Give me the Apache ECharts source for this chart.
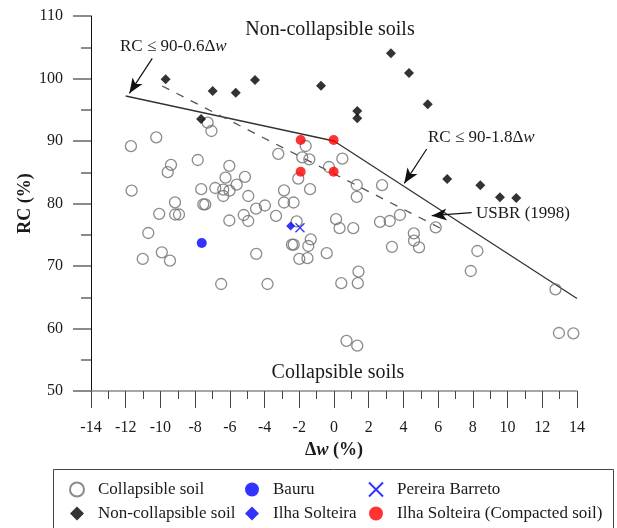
<!DOCTYPE html>
<html>
<head>
<meta charset="utf-8">
<script src="https://cdn.jsdelivr.net/npm/echarts@6/dist/echarts.min.js"></script>
<style>
  html, body { margin: 0; padding: 0; background: #fff; }
  #chart { width: 617px; height: 528px; }
</style>
</head>
<body>
<div id="chart"></div>
<script>
// Relative compaction RC (%) against moisture deviation Δw (%)
const collapsible = [
  [-7.28,92.93],[-7.06,91.6],[-10.24,90.59],[-11.70,89.17],[-1.63,89.2],[-3.21,87.95],
  [-1.83,87.39],[-1.42,87.07],[0.48,87.17],[-7.85,86.96],[-9.39,86.19],[-9.58,85.01],
  [-6.03,86.03],[-6.25,84.14],[-5.13,84.27],[-5.61,83.01],[-2.06,83.97],[-0.29,85.84],
  [-6.84,82.48],[-6.38,82.22],[-6.02,82.05],[-7.65,82.29],[-11.66,82.05],[-6.38,81.2],
  [-4.94,81.2],[-1.38,82.29],[-2.88,82.11],[1.31,82.96],[1.31,81.07],[2.77,82.93],
  [-9.16,80.19],[-7.53,79.87],[-7.42,79.87],[-4.49,79.18],[-3.98,79.68],[-2.88,80.16],
  [-2.33,80.16],[-10.07,78.35],[-9.15,78.24],[-8.93,78.24],[-6.03,77.28],[-5.20,78.16],
  [-4.94,77.2],[-3.34,78.03],[-2.15,77.15],[0.12,77.49],[0.32,76.05],[1.11,76.05],
  [2.65,77.07],[3.21,77.2],[3.80,78.16],[4.60,75.23],[4.61,74.05],[4.90,72.98],
  [5.86,76.19],[-10.70,75.28],[-1.34,74.27],[-1.48,73.2],[-2.42,73.41],[-2.32,73.41],
  [3.34,73.07],[8.26,72.4],[-9.92,72.19],[-9.45,70.85],[-11.02,71.14],[-4.48,71.94],
  [-0.42,72.05],[-2.0,71.14],[-1.53,71.25],[7.88,69.2],[1.41,69.09],[-6.50,67.12],
  [-3.83,67.12],[0.42,67.25],[1.37,67.25],[12.76,66.27],[0.72,58.03],[1.34,57.25],
  [12.96,59.28],[13.79,59.23]
];
const nonCollapsible = [
  [-9.70,99.87],[-6.99,98.0],[-5.66,97.73],[-4.55,99.76],[-7.66,93.52],[-0.75,98.85],
  [1.34,94.8],[1.34,93.63],[3.28,104.03],[4.32,100.88],[5.40,95.87],[6.52,83.92],
  [8.43,82.91],[9.56,80.99],[10.50,80.9]
];
const bauru = [[-7.62,73.68]];
const ilhaSolteira = [[-2.50,76.4]];
const pereiraBarreto = [[-1.96,76.13]];
const ilhaCompacted = [[-1.92,90.16],[-0.02,90.16],[-1.92,85.09],[-0.02,85.09]];

// Proposed limit: RC ≤ 90-0.6Δw (dry side), RC ≤ 90-1.8Δw (wet side)
const criterionLine = [[-12,97.2],[0,90],[14,64.8]];
// USBR (1998) limit
const usbrLine = [[-9.9,98.8],[6.45,75.6]];
// Annotation arrows, start -> tip, in data units
const arrowSegments = [
  [[-10.47,103.23],[-11.79,97.63]],
  [[5.34,88.72],[4.05,83.23]],
  [[7.93,78.53],[5.63,78.05]]
];

const xMin = -14, xMax = 14, xStep = 2;
const yMin = 50, yMax = 110, yStep = 10;

const SERIF = '"Liberation Serif", "Times New Roman", serif';
const TXT = '#1a1a1a';

const chart = echarts.init(document.getElementById('chart'), null, { renderer: 'canvas' });

const legendCommon = {
  orient: 'vertical',
  top: 481,
  height: 60,
  padding: 0,
  itemWidth: 14,
  itemHeight: 14,
  itemGap: 7,
  textStyle: { fontFamily: SERIF, fontSize: 17, color: TXT, padding: [0, 0, 0, 9] },
  selectedMode: false
};

chart.setOption({
  animation: false,
  backgroundColor: '#fff',
  grid: { left: 91, right: 40, top: 16, bottom: 137 },
  xAxis: {
    type: 'value', min: xMin, max: xMax, interval: xStep,
    name: '{a|Δ}{b|w}{a| (%)}',
    nameLocation: 'middle', nameGap: 50,
    nameTextStyle: {
      rich: {
        a: { fontFamily: SERIF, fontSize: 18, fontWeight: 'bold', color: TXT },
        b: { fontFamily: SERIF, fontSize: 18, fontWeight: 'bold', fontStyle: 'italic', color: TXT }
      }
    },
    axisLine: { onZero: false, lineStyle: { color: '#8a8a8a', width: 1.5 } },
    axisTick: { length: 17, lineStyle: { color: '#444', width: 1 } },
    minorTick: { show: true, splitNumber: 2, length: 8, lineStyle: { color: '#444', width: 1 } },
    splitLine: { show: false },
    axisLabel: { margin: 29, fontFamily: SERIF, fontSize: 16, color: TXT }
  },
  yAxis: {
    type: 'value', min: yMin, max: yMax, interval: yStep,
    name: 'RC (%)',
    nameLocation: 'middle', nameGap: 57, nameMoveOverlap: false,
    nameTextStyle: { fontFamily: SERIF, fontSize: 18, fontWeight: 'bold', color: TXT },
    axisLine: { onZero: false, lineStyle: { color: '#111', width: 1 } },
    axisTick: { length: 18, lineStyle: { color: '#666', width: 1.5 } },
    minorTick: { show: true, splitNumber: 2, length: 10, lineStyle: { color: '#666', width: 1.5 } },
    splitLine: { show: false },
    axisLabel: { margin: 28, fontFamily: SERIF, fontSize: 16, color: TXT }
  },
  legend: [
    Object.assign({}, legendCommon, { left: 69, data: ['Collapsible soil', 'Non-collapsible soil'] }),
    Object.assign({}, legendCommon, { left: 245, data: ['Bauru', 'Ilha Solteira'] }),
    Object.assign({}, legendCommon, { left: 368, data: ['Pereira Barreto', 'Ilha Solteira (Compacted soil)'] })
  ],
  series: [
    {
      name: 'criterion', type: 'line', data: criterionLine, symbol: 'none', silent: true,
      lineStyle: { color: '#333', width: 1.3 }, z: 1
    },
    {
      name: 'USBR', type: 'line', data: usbrLine, symbol: 'none', silent: true,
      lineStyle: { color: '#555', width: 1.3, type: [8, 8] }, z: 1,
      markLine: {
        silent: true,
        symbol: ['none', 'arrow'],
        symbolSize: [9, 15],
        label: { show: false },
        lineStyle: { color: '#111', width: 1.2, type: 'solid' },
        data: arrowSegments.map(s => [{ coord: s[0] }, { coord: s[1] }])
      }
    },
    {
      name: 'Collapsible soil', type: 'scatter', data: collapsible,
      symbol: 'circle', symbolSize: 11,
      itemStyle: { color: 'rgba(255,255,255,0)', borderColor: '#6e6e6e', borderWidth: 1.3 }, z: 2
    },
    {
      name: 'Non-collapsible soil', type: 'scatter', data: nonCollapsible,
      symbol: 'diamond', symbolSize: 10,
      itemStyle: { color: '#000' }, z: 3
    },
    {
      name: 'Bauru', type: 'scatter', data: bauru,
      symbol: 'circle', symbolSize: 10,
      itemStyle: { color: '#0000ff' }, z: 3
    },
    {
      name: 'Ilha Solteira', type: 'scatter', data: ilhaSolteira,
      symbol: 'diamond', symbolSize: 9,
      itemStyle: { color: '#0000ff' }, z: 3
    },
    {
      name: 'Pereira Barreto', type: 'scatter', data: pereiraBarreto,
      symbol: 'path://M0,0L10,10M10,0L0,10', symbolSize: 9,
      itemStyle: { color: 'rgba(0,0,0,0)', borderColor: '#0000ff', borderWidth: 1.3 }, z: 3
    },
    {
      name: 'Ilha Solteira (Compacted soil)', type: 'scatter', data: ilhaCompacted,
      symbol: 'circle', symbolSize: 10,
      itemStyle: { color: '#ff0000' }, z: 3
    }
  ],
  graphic: [
    {
      type: 'text', x: 330, y: 30, silent: true,
      style: { text: 'Non-collapsible soils', font: '20px ' + SERIF, fill: TXT, align: 'center', verticalAlign: 'middle' }
    },
    {
      type: 'text', x: 338, y: 373, silent: true,
      style: { text: 'Collapsible soils', font: '20px ' + SERIF, fill: TXT, align: 'center', verticalAlign: 'middle' }
    },
    {
      type: 'text', x: 120, y: 47, silent: true,
      style: {
        text: '{a|RC ≤ 90-0.6Δ}{b|w}', align: 'left', verticalAlign: 'middle',
        rich: {
          a: { fontFamily: SERIF, fontSize: 17, fill: TXT },
          b: { fontFamily: SERIF, fontSize: 17, fontStyle: 'italic', fill: TXT }
        }
      }
    },
    {
      type: 'text', x: 428, y: 138, silent: true,
      style: {
        text: '{a|RC ≤ 90-1.8Δ}{b|w}', align: 'left', verticalAlign: 'middle',
        rich: {
          a: { fontFamily: SERIF, fontSize: 17, fill: TXT },
          b: { fontFamily: SERIF, fontSize: 17, fontStyle: 'italic', fill: TXT }
        }
      }
    },
    {
      type: 'text', x: 476, y: 214, silent: true,
      style: { text: 'USBR (1998)', font: '17px ' + SERIF, fill: TXT, align: 'left', verticalAlign: 'middle' }
    },
    {
      type: 'rect', silent: true, z: -1,
      shape: { x: 53.5, y: 469.5, width: 560, height: 80 },
      style: { fill: 'none', stroke: '#444', lineWidth: 1 }
    }
  ]
});
</script>
</body>
</html>
